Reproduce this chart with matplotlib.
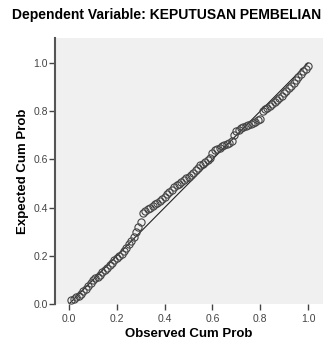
import matplotlib
matplotlib.use("Agg")
import matplotlib.pyplot as plt

title = "Dependent Variable: KEPUTUSAN PEMBELIAN"
x_label = "Observed Cum Prob"
y_label = "Expected Cum Prob"
tick_values = [0.0, 0.2, 0.4, 0.6, 0.8, 1.0]
tick_labels = ["0.0", "0.2", "0.4", "0.6", "0.8", "1.0"]

observed = [0.01, 0.02, 0.03, 0.04, 0.05, 0.06, 0.07, 0.08, 0.09, 0.10,
            0.11, 0.12, 0.13, 0.14, 0.15, 0.16, 0.17, 0.18, 0.19, 0.20,
            0.21, 0.22, 0.23, 0.24, 0.25, 0.26, 0.27, 0.28, 0.29, 0.30,
            0.31, 0.32, 0.33, 0.34, 0.35, 0.36, 0.37, 0.38, 0.39, 0.40,
            0.41, 0.42, 0.43, 0.44, 0.45, 0.46, 0.47, 0.48, 0.49, 0.50,
            0.51, 0.52, 0.53, 0.54, 0.55, 0.56, 0.57, 0.58, 0.59, 0.60,
            0.61, 0.62, 0.63, 0.64, 0.65, 0.66, 0.67, 0.68, 0.69, 0.70,
            0.71, 0.72, 0.73, 0.74, 0.75, 0.76, 0.77, 0.78, 0.79, 0.80,
            0.81, 0.82, 0.83, 0.84, 0.85, 0.86, 0.87, 0.88, 0.89, 0.90,
            0.91, 0.92, 0.93, 0.94, 0.95, 0.96, 0.97, 0.98, 0.99, 1.00]

expected = [0.015, 0.020, 0.027, 0.034, 0.042, 0.052, 0.062, 0.075, 0.088, 0.098,
            0.106, 0.114, 0.122, 0.132, 0.141, 0.150, 0.160, 0.171, 0.182, 0.193,
            0.200, 0.207, 0.218, 0.232, 0.247, 0.262, 0.279, 0.297, 0.318, 0.340,
            0.378, 0.386, 0.393, 0.400, 0.407, 0.414, 0.421, 0.429, 0.437, 0.446,
            0.455, 0.465, 0.475, 0.487, 0.494, 0.500, 0.507, 0.515, 0.521, 0.528,
            0.535, 0.545, 0.556, 0.566, 0.575, 0.583, 0.590, 0.597, 0.605, 0.628,
            0.638, 0.643, 0.648, 0.654, 0.660, 0.665, 0.670, 0.675, 0.700, 0.718,
            0.724, 0.729, 0.733, 0.738, 0.743, 0.748, 0.752, 0.757, 0.762, 0.768,
            0.800, 0.808, 0.815, 0.822, 0.830, 0.838, 0.846, 0.855, 0.864, 0.874,
            0.885, 0.896, 0.906, 0.917, 0.930, 0.942, 0.953, 0.965, 0.977, 0.988]

ref_line = [0.0, 1.0]

plt.rcParams['font.family'] = ['Liberation Sans', 'DejaVu Sans']

fig = plt.figure(figsize=(3.29, 3.42), dpi=100)
fig.patch.set_facecolor('white')
ax = fig.add_axes([0.1672, 0.1111, 0.8146, 0.7778])
ax.set_facecolor('#f0f0f0')

ax.plot(ref_line, ref_line, color='#222222', linewidth=0.8, zorder=2)
ax.plot(observed, expected, linestyle='none', marker='o', markersize=5.2,
        markerfacecolor='none', markeredgecolor='#444444', markeredgewidth=0.8,
        zorder=3)

ax.set_xlim(-0.0586, 1.0628)
ax.set_ylim(0.0, 1.104)
ax.set_xticks(tick_values)
ax.set_xticklabels(tick_labels)
ax.set_yticks(tick_values)
ax.set_yticklabels(tick_labels)

for side in ['top', 'right', 'bottom']:
    ax.spines[side].set_visible(False)
ax.spines['left'].set_color('#555555')
ax.spines['left'].set_linewidth(1.5)

ax.tick_params(axis='both', direction='out', length=4, width=1.0,
               color='#444444', labelsize=7.5, labelcolor='#444444')
ax.tick_params(axis='x', pad=3)
ax.tick_params(axis='y', pad=1)

ax.set_xlabel(x_label, fontsize=9.5, fontweight='bold', labelpad=3)
ax.set_ylabel(y_label, fontsize=9.5, fontweight='bold', labelpad=3)

fig.text(0.505, 0.955, title, ha='center', va='center', fontsize=10,
         fontweight='bold')

fig.savefig('out.png', dpi=100)
